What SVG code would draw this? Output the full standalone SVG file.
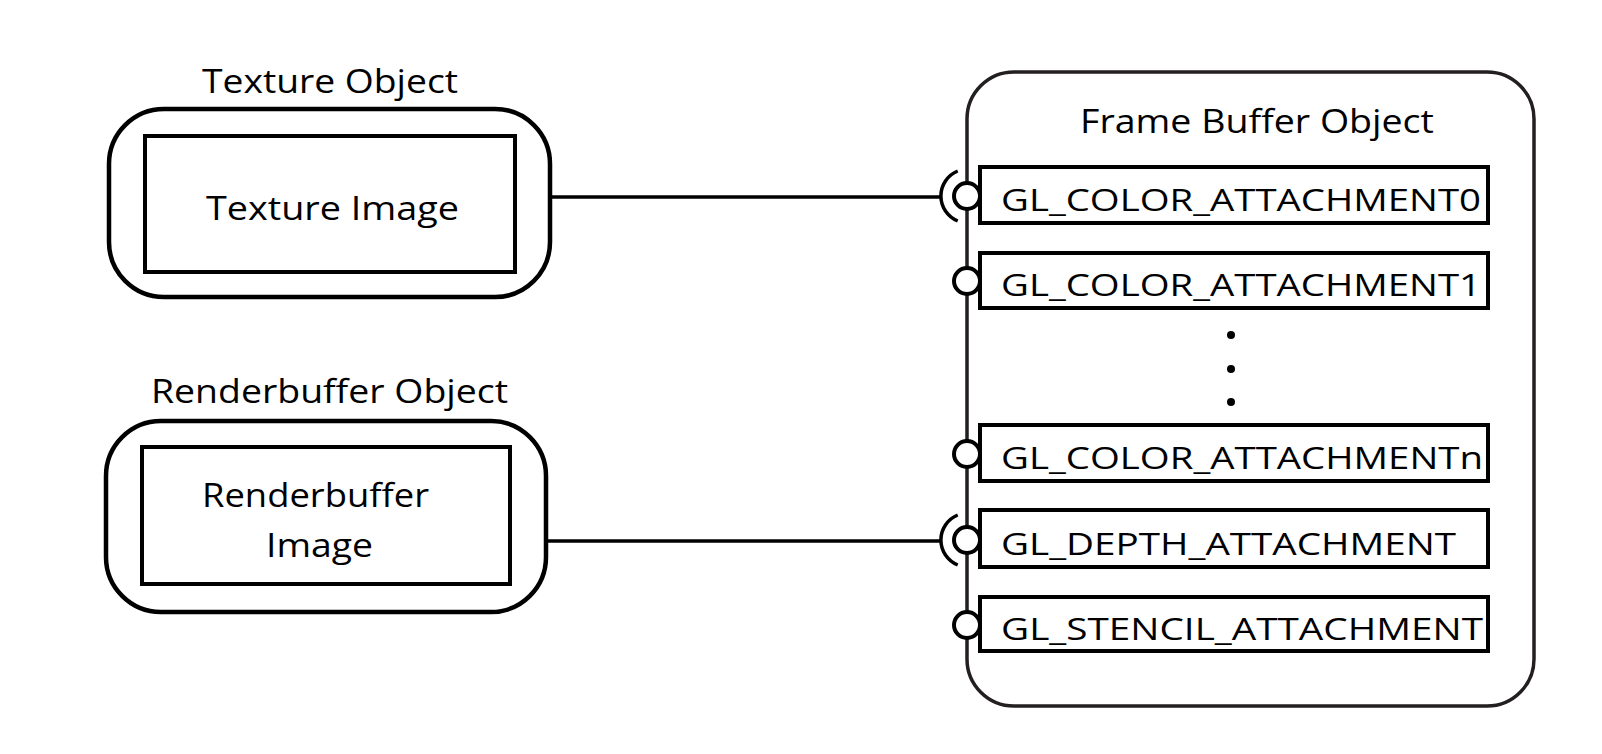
<svg xmlns="http://www.w3.org/2000/svg" width="1602" height="754" viewBox="0 0 1602 754">
<style>
  .outer { fill: #fff; stroke: #000; stroke-width: 4.5; }
  .inner { fill: #fff; stroke: #000; stroke-width: 4; }
  .fbo { fill: #fff; stroke: #231f20; stroke-width: 3.5; }
  .att { fill: #fff; stroke: #000; stroke-width: 4; }
  .port { fill: #fff; stroke: #000; stroke-width: 4; }
  .socket { fill: none; stroke: #000; stroke-width: 3.5; }
  .wire { fill: none; stroke: #000; stroke-width: 3.5; }
  .dot { fill: #000; }
  text { font-family: "Open Sans", "Noto Sans", "Liberation Sans", sans-serif; fill: #000; }
  .t { font-size: 33px; }
  .a { font-size: 31px; }
</style>
<rect width="1602" height="754" fill="#fff"/>

<g id="texture-object">
  <text class="t" x="202" y="93" textLength="256" lengthAdjust="spacingAndGlyphs">Texture Object</text>
  <rect class="outer" x="109" y="109" width="441" height="188" rx="55" ry="55"/>
  <rect class="inner" x="145" y="136" width="370" height="136"/>
  <text class="t" x="206" y="220" textLength="253" lengthAdjust="spacingAndGlyphs">Texture Image</text>
</g>

<g id="renderbuffer-object">
  <text class="t" x="151" y="403" textLength="357" lengthAdjust="spacingAndGlyphs">Renderbuffer Object</text>
  <rect class="outer" x="106" y="421" width="440" height="191" rx="55" ry="55"/>
  <rect class="inner" x="142" y="447" width="368" height="137"/>
  <text class="t" x="202" y="507" textLength="227" lengthAdjust="spacingAndGlyphs">Renderbuffer</text>
  <text class="t" x="266" y="557" textLength="107" lengthAdjust="spacingAndGlyphs">Image</text>
</g>

<g id="frame-buffer-object">
  <rect class="fbo" x="967" y="72" width="567" height="634" rx="47" ry="47"/>
  <text class="t" x="1080" y="133" textLength="354" lengthAdjust="spacingAndGlyphs">Frame Buffer Object</text>
</g>

<g id="color-attachment-0">
  <rect class="att" x="980" y="167" width="508" height="56"/>
  <circle class="port" cx="967" cy="196" r="13"/>
  <text class="a" x="1001" y="211" textLength="480" lengthAdjust="spacingAndGlyphs">GL_COLOR_ATTACHMENT0</text>
</g>
<g id="color-attachment-1">
  <rect class="att" x="980" y="253" width="508" height="55"/>
  <circle class="port" cx="967" cy="281" r="13"/>
  <text class="a" x="1001" y="296" textLength="480" lengthAdjust="spacingAndGlyphs">GL_COLOR_ATTACHMENT1</text>
</g>
<g id="ellipsis">
  <circle class="dot" cx="1231" cy="335" r="4"/>
  <circle class="dot" cx="1231" cy="369" r="4"/>
  <circle class="dot" cx="1231" cy="402" r="4"/>
</g>
<g id="color-attachment-n">
  <rect class="att" x="980" y="425" width="508" height="56"/>
  <circle class="port" cx="967" cy="454" r="13"/>
  <text class="a" x="1001" y="469" textLength="482" lengthAdjust="spacingAndGlyphs">GL_COLOR_ATTACHMENTn</text>
</g>
<g id="depth-attachment">
  <rect class="att" x="980" y="510" width="508" height="57"/>
  <circle class="port" cx="967" cy="540" r="13"/>
  <text class="a" x="1001" y="555" textLength="455" lengthAdjust="spacingAndGlyphs">GL_DEPTH_ATTACHMENT</text>
</g>
<g id="stencil-attachment">
  <rect class="att" x="980" y="597" width="508" height="54"/>
  <circle class="port" cx="967" cy="625" r="13"/>
  <text class="a" x="1001" y="640" textLength="482" lengthAdjust="spacingAndGlyphs">GL_STENCIL_ATTACHMENT</text>
</g>

<g id="connectors">
  <line class="wire" x1="550" y1="197" x2="942" y2="197"/>
  <path class="socket" d="M 957.7 171 A 27 27 0 0 0 957.7 221"/>
  <line class="wire" x1="546" y1="541" x2="942" y2="541"/>
  <path class="socket" d="M 957.7 515 A 27 27 0 0 0 957.7 565"/>
</g>
</svg>
